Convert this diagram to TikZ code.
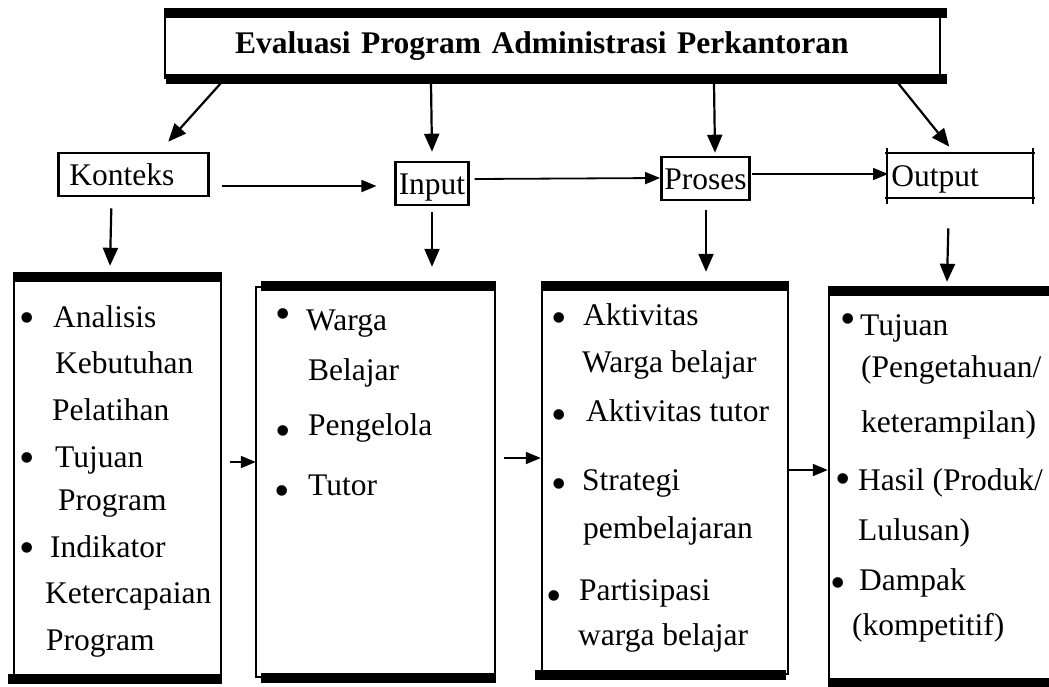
\documentclass[tikz,border=0pt]{standalone}
\usepackage{fontspec}
\setmainfont{Liberation Serif}
\usepackage{tikz}
\usetikzlibrary{arrows.meta, positioning, calc}
\newcommand{\diagfont}{\fontsize{31.5}{38}\selectfont}
\newcommand{\dotfont}{\fontsize{44}{50}\selectfont}

\begin{document}
\begin{tikzpicture}[x=1pt, y=-1pt,
  stage/.style={draw, line width=2.6pt, font=\diagfont, text height=32pt,
    text depth=11pt, inner ysep=0pt, inner xsep=3pt},
  listbox/.style={draw, line width=2.4pt},
  bar/.style={line width=10pt},
  link/.style={-{Triangle[length=18pt, width=15pt]}, line width=2.2pt},
  shortlink/.style={-{Triangle[length=15pt, width=12pt]}, line width=1.8pt},
  entry/.style={anchor=base west, inner sep=0pt, font=\diagfont},
  dot/.style={anchor=base, inner sep=0pt, font=\dotfont}
]
  \useasboundingbox (0,0) rectangle (1049,686);

  % Title
  \node[draw, line width=2pt, minimum height=64pt, text width=635pt, inner xsep=70pt,
    align=left, font=\diagfont\bfseries] (title) at (552.5,46) {Evaluasi Program Administrasi Perkantoran};
  \draw[bar] (title.north west) -- ([xshift=6pt]title.north east);
  \draw[bar] ([xshift=2pt]title.south west) -- ([xshift=6pt]title.south east);

  % Stages
  \node[stage, anchor=base west, text width=128pt, inner xsep=11pt, align=left] (konteks) at (57,185) {Konteks};
  \node[stage, anchor=base] (input)  at (432,194)   {Input};
  \node[stage, anchor=base] (proses) at (705.5,189) {Proses};
  \node[stage, draw=none, anchor=base west, text width=137pt, align=left] (output) at (887,186) {Output};
  \draw[line width=2pt] ([xshift=-2pt]output.north west) -- ([xshift=2pt]output.north east);
  \draw[line width=2pt] ([xshift=-2pt]output.south west) -- ([xshift=2pt]output.south east);
  \draw[line width=2pt] ([yshift=5pt]output.north west) -- ([yshift=-6pt]output.south west);
  \draw[line width=2pt] ([yshift=5pt]output.north east) -- ([yshift=-6pt]output.south east);

  % Lists
  \node[listbox, minimum width=207pt, minimum height=400pt] (ctxList)  at (117.5,478) {};
  \node[listbox, minimum width=239pt, minimum height=390pt] (inList)   at (375.5,482) {};
  \node[listbox, minimum width=246pt, minimum height=387pt] (procList) at (665,480.5) {};
  \node[listbox, minimum width=241pt, minimum height=390pt] (outList)  at (949.5,487) {};
  \draw[bar] (ctxList.north west) -- (ctxList.north east);
  \draw[bar] ([xshift=-5pt]ctxList.south west) -- (ctxList.south east);
  \draw[bar] ([xshift=6pt]inList.north west) -- (inList.north east);
  \draw[bar] ([xshift=6pt]inList.south west) -- (inList.south east);
  \draw[bar] (procList.north west) -- (procList.north east);
  \draw[bar] ([xshift=-6pt]procList.south west) -- ([xshift=-3pt]procList.south east);
  \draw[bar] (outList.north west) -- (outList.north east);
  \draw[bar] (outList.south west) -- (outList.south east);

  % List texts
  \node[entry] (ctxA) at (53,327) {Analisis};
  \node[entry] (ctxB) at (55,373) {Kebutuhan};
  \node[entry] (ctxC) at (52,420) {Pelatihan};
  \node[entry] (ctxD) at (55,467) {Tujuan};
  \node[entry] (ctxE) at (58,510) {Program};
  \node[entry] (ctxF) at (50,557) {Indikator};
  \node[entry] (ctxG) at (45,603) {Ketercapaian};
  \node[entry] (ctxH) at (46,650) {Program};

  \node[entry] (inA) at (306,330) {Warga};
  \node[entry] (inB) at (308,380) {Belajar};
  \node[entry] (inC) at (308,435) {Pengelola};
  \node[entry] (inD) at (308,495) {Tutor};

  \node[entry] (procA) at (583,325) {Aktivitas};
  \node[entry] (procB) at (582,372) {Warga belajar};
  \node[entry] (procC) at (586,421) {Aktivitas tutor};
  \node[entry] (procD) at (582,490) {Strategi};
  \node[entry] (procE) at (583,538) {pembelajaran};
  \node[entry] (procF) at (579,600) {Partisipasi};
  \node[entry] (procG) at (578,645) {warga belajar};

  \node[entry] (outA) at (860,335) {Tujuan};
  \node[entry] (outB) at (861,377) {(Pengetahuan/};
  \node[entry] (outC) at (861,432) {keterampilan)};
  \node[entry] (outD) at (858,490) {Hasil (Produk/};
  \node[entry] (outE) at (858,540) {Lulusan)};
  \node[entry] (outF) at (859,590) {Dampak};
  \node[entry] (outG) at (852,635) {(kompetitif)};

  % Bullets (x / centre y)
  \foreach \x/\y [count=\i] in {27/317, 27/457, 27/547, 283/313, 283/430, 282/490,
      559/317, 559/414, 559/483, 554/595, 848/318, 843/478, 838/582}
    \node[dot] (bullet\i) at (\x,\y+15) {\textbullet};

  % Arrows from title
  \draw[link] ([shift={(57pt,-4pt)}]title.south west)  -- ([shift={(35pt,10pt)}]konteks.north);
  \draw[link] ([shift={(267pt,-4pt)}]title.south west) -- ([yshift=9pt]input.north);
  \draw[link] ([shift={(550pt,-4pt)}]title.south west) -- ([shift={(9.5pt,3pt)}]proses.north);
  \draw[link] ([shift={(734pt,-4pt)}]title.south west) -- ([shift={(-10.5pt,6pt)}]output.north);

  % Arrows between stages
  \draw[shortlink] ([shift={(12pt,-11.5pt)}]konteks.east) -- ([shift={(-18pt,-2.5pt)}]input.west);
  \draw[shortlink] ([shift={(5pt,4.5pt)}]input.east)      -- ([yshift=0.5pt]proses.west);
  \draw[shortlink] ([shift={(1pt,4.5pt)}]proses.east)     -- ([shift={(1pt,1.5pt)}]output.west);

  % Arrows down to lists
  \draw[link] ([shift={(-22pt,-11pt)}]konteks.south) -- ([shift={(-7.5pt,11pt)}]ctxList.north);
  \draw[link] ([yshift=-6pt]input.south)              -- ([shift={(56.5pt,19pt)}]inList.north);
  \draw[link] ([shift={(0.5pt,-9pt)}]proses.south)    -- ([shift={(41pt,14pt)}]procList.north);
  \draw[link] ([shift={(-11.5pt,-30pt)}]output.south) -- ([shift={(-2.5pt,9pt)}]outList.north);

  % Arrows between lists
  \draw[shortlink] ([shift={(8pt,16pt)}]ctxList.east)  -- ([shift={(1pt,20pt)}]inList.west);
  \draw[shortlink] ([shift={(8pt,24pt)}]inList.east)   -- ([yshift=22.5pt]procList.west);
  \draw[shortlink] ([yshift=10.5pt]procList.east)      -- ([yshift=17pt]outList.west);
\end{tikzpicture}
\end{document}
